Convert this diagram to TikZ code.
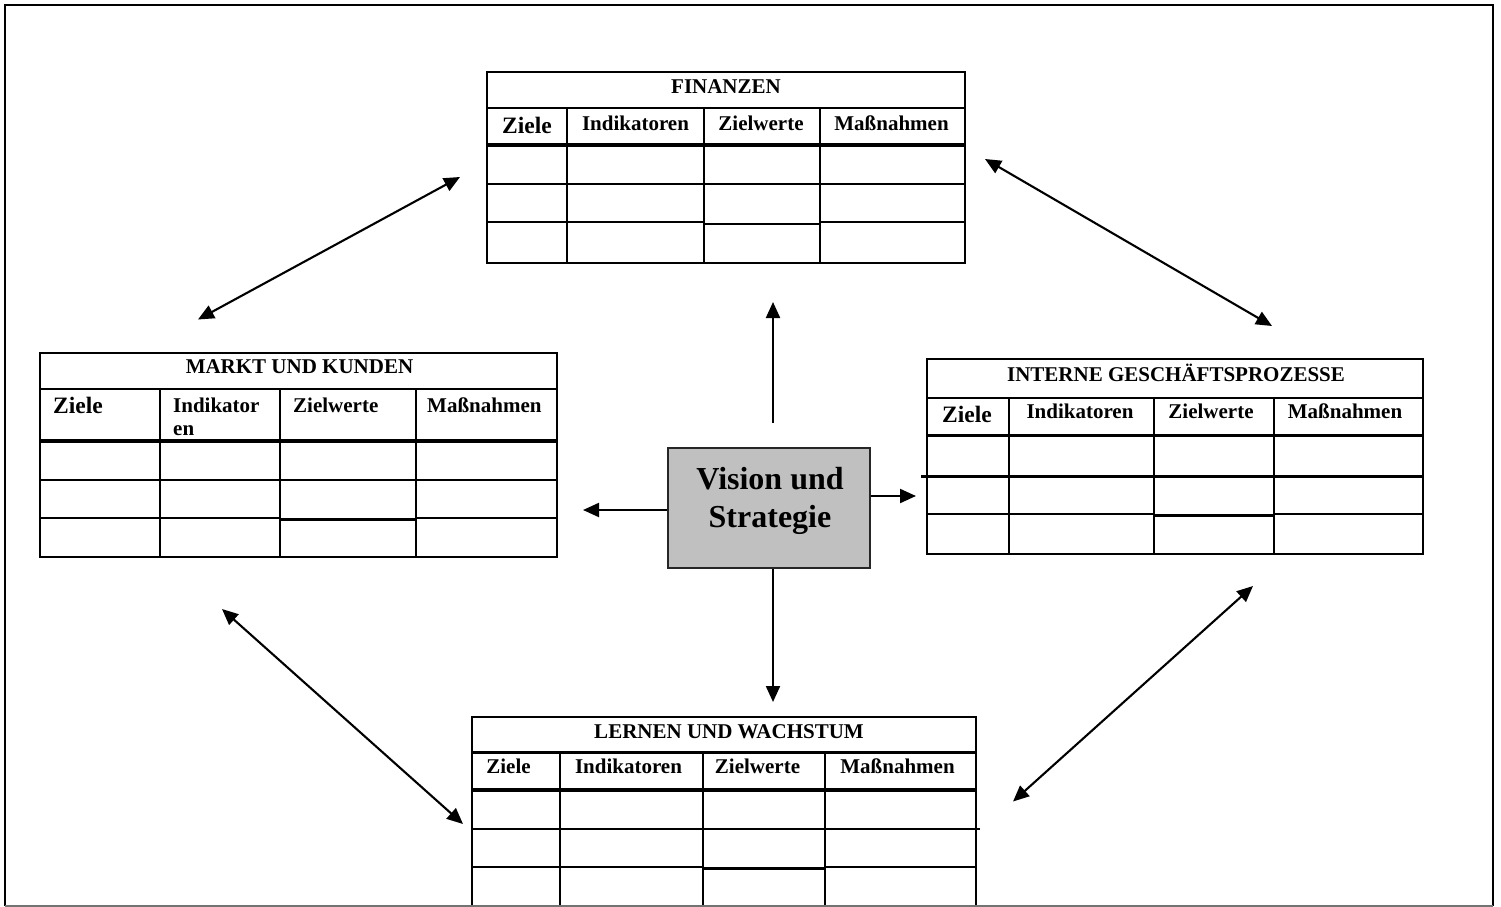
\documentclass[tikz,border=0pt]{standalone}
\usepackage{fontspec}
\setmainfont{Liberation Serif}
\usetikzlibrary{arrows.meta}
\definecolor{boxgray}{RGB}{192,192,192}
\tikzset{
  grid/.style={line width=2.7pt},
  headrule/.style={line width=3.5pt},
  ttl/.style={font=\fontsize{21}{24}\selectfont\bfseries, anchor=base, inner sep=0pt},
  hdr/.style={font=\fontsize{21}{23}\selectfont\bfseries, anchor=base, inner sep=0pt},
  hdrbig/.style={font=\fontsize{23.5}{26}\selectfont\bfseries, anchor=base, inner sep=0pt},
  tip/.tip={Triangle[length=16pt,width=14pt]},
  link/.style={line width=2.1pt, tip-tip},
  flow/.style={line width=2.1pt, -tip},
  visionbox/.style={draw=black!85, line width=2.2pt, fill=boxgray, minimum width=202pt, minimum height=120pt, inner sep=0pt},
  visiontext/.style={font=\fontsize{32}{38}\selectfont\bfseries, align=center, inner sep=0pt},
}
\begin{document}
\begin{tikzpicture}[x=1pt,y=-1pt]
\useasboundingbox (0,0) rectangle (1501,907);

% ---------- FINANZEN ----------
\draw[grid] (487,72) rectangle (965,263);
\draw[grid] (487,108) -- (965,108) (487,184) -- (965,184)
  (487,222) -- (704,222) (704,224) -- (820,224) (820,222) -- (965,222);
\draw[headrule] (487,145) -- (965,145);
\foreach \c in {567,704,820} \draw[grid] (\c,108) -- (\c,263);
\node[ttl] (fin-title) at (726,93) {FINANZEN};
\node[hdrbig] (fin-ziele) at (527,133.5) {Ziele};
\node[hdr] (fin-ind) at (635.5,130.5) {Indikatoren};
\node[hdr] (fin-zw) at (761,130.5) {Zielwerte};
\node[hdr] (fin-mn) at (891.5,130.5) {Maßnahmen};

% ---------- MARKT UND KUNDEN ----------
\draw[grid] (40,353) rectangle (557,557);
\draw[grid] (40,389) -- (557,389) (40,480) -- (557,480)
  (40,518) -- (280,518) (280,519.5) -- (416,519.5) (416,518) -- (557,518);
\draw[headrule] (40,441) -- (557,441);
\foreach \c in {160,280,416} \draw[grid] (\c,389) -- (\c,557);
\node[ttl] (mk-title) at (299.5,373.5) {MARKT UND KUNDEN};
\node[hdrbig, anchor=base west] (mk-ziele) at (53,413) {Ziele};
\node[hdr, anchor=north west, align=left] (mk-ind) at (173,397.7) {Indikator\\en};
\node[hdr, anchor=base west] (mk-zw) at (293,412) {Zielwerte};
\node[hdr, anchor=base west] (mk-mn) at (427,412) {Maßnahmen};

% ---------- INTERNE GESCHÄFTSPROZESSE ----------
\draw[grid] (927,359) rectangle (1423,554);
\draw[grid] (927,398) -- (1423,398) (921,476.5) -- (1423,476.5)
  (927,514) -- (1154,514) (1154,515.5) -- (1274,515.5) (1274,514) -- (1423,514);
\draw[headrule] (927,435.5) -- (1423,435.5);
\foreach \c in {1009,1154,1274} \draw[grid] (\c,398) -- (\c,554);
\node[ttl] (ip-title) at (1176,381) {INTERNE GESCHÄFTSPROZESSE};
\node[hdrbig] (ip-ziele) at (967,422) {Ziele};
\node[hdr] (ip-ind) at (1080,418.5) {Indikatoren};
\node[hdr] (ip-zw) at (1211,418.5) {Zielwerte};
\node[hdr] (ip-mn) at (1345,418.5) {Maßnahmen};

% ---------- LERNEN UND WACHSTUM ----------
\draw[grid] (472,906) -- (472,717) -- (976,717) -- (976,906);
\draw[grid] (472,752.5) -- (976,752.5) (472,829) -- (980,829)
  (472,867) -- (703,867) (703,868.5) -- (825,868.5) (825,867) -- (976,867);
\draw[headrule] (472,790) -- (976,790);
\foreach \c in {560,703,825} \draw[grid] (\c,752.5) -- (\c,906);
\node[ttl] (lw-title) at (729,738) {LERNEN UND WACHSTUM};
\node[hdr] (lw-ziele) at (508.5,773.5) {Ziele};
\node[hdr] (lw-ind) at (628.5,773.5) {Indikatoren};
\node[hdr] (lw-zw) at (757.5,773.5) {Zielwerte};
\node[hdr] (lw-mn) at (897.5,773.5) {Maßnahmen};

% ---------- centre ----------
\node[visionbox] (vision) at (769,508) {};
\node[visiontext] (vision-label) at (770,501) {Vision und\\Strategie};

% arrow end points
\coordinate (fin-in) at (773,302);
\coordinate (up-from) at (773,423);
\coordinate (lw-in) at (773,702);
\coordinate (mk-in) at (583,510);
\coordinate (ip-in) at (916,496);
\coordinate (nw-a) at (460,177);
\coordinate (nw-b) at (198,319.5);
\coordinate (ne-a) at (985,159);
\coordinate (ne-b) at (1272,326);
\coordinate (sw-a) at (222,609);
\coordinate (sw-b) at (463,824);
\coordinate (se-a) at (1253,586);
\coordinate (se-b) at (1013,801.5);

\draw[flow] (up-from) -- (fin-in);
\draw[flow] (vision.south -| lw-in) -- (lw-in);
\draw[flow] (vision.west |- mk-in) -- (mk-in);
\draw[flow] (vision.east |- ip-in) -- (ip-in);
\draw[link] (nw-a) -- (nw-b);
\draw[link] (ne-a) -- (ne-b);
\draw[link] (sw-a) -- (sw-b);
\draw[link] (se-a) -- (se-b);

% ---------- frame ----------
\draw[line width=2.6pt] (5,906) -- (5,5) -- (1493,5) -- (1493,906);
\draw[line width=1.5pt, black!55] (5,906) -- (1493,906);
\end{tikzpicture}
\end{document}
